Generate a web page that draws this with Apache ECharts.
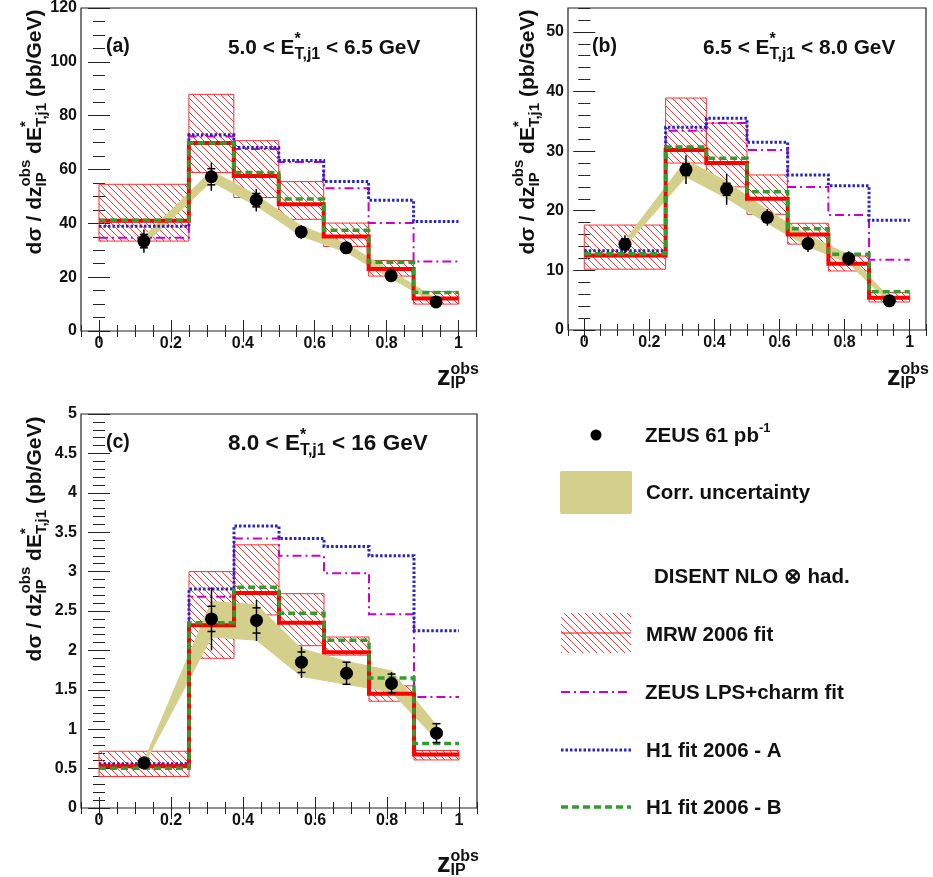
<!DOCTYPE html>
<html><head><meta charset="utf-8">
<script src="https://cdn.jsdelivr.net/npm/echarts@6/dist/echarts.min.js"></script>
<style>html,body{margin:0;padding:0;background:#fff}#c{width:933px;height:877px}</style>
</head><body><div id="c"></div>
<script>
// ---------------- data ----------------
const binEdges = [0, 0.25, 0.375, 0.5, 0.625, 0.75, 0.875, 1.0];
const zCenters = [0.125, 0.3125, 0.4375, 0.5625, 0.6875, 0.8125, 0.9375];
const xTickLabels = [0, 0.2, 0.4, 0.6, 0.8, 1];

// panel (a) 5.0 < E*T,j1 < 6.5 GeV
const a_data   = [33.4, 57.3, 48.6, 36.8, 30.9, 20.6, 10.8];
const a_tot    = [4.3, 5.2, 4.2, 2.5, 2.2, 2.5, 1.0];
const a_stat   = [2.5, 3.0, 2.5, 1.5, 1.5, 1.2, 0.8];
const a_bandLo = [32.0, 55.5, 46.5, 35.3, 29.3, 19.5, 10.3];
const a_bandHi = [35.0, 59.5, 50.5, 39.0, 32.5, 22.3, 12.0];
const a_mrw    = [41.0, 69.8, 57.6, 47.1, 35.1, 23.0, 12.1];
const a_mrwLo  = [33.4, 58.9, 49.6, 41.5, 31.4, 20.4, 10.0];
const a_mrwHi  = [54.5, 87.9, 70.7, 55.5, 40.1, 26.2, 14.6];
const a_lps    = [34.6, 72.3, 67.6, 62.8, 53.0, 40.1, 25.8];
const a_h1a    = [38.9, 72.9, 68.2, 63.3, 55.5, 48.6, 40.7];
const a_h1b    = [41.1, 69.8, 58.9, 49.0, 37.4, 25.5, 14.3];
const a_yTicks = [0, 20, 40, 60, 80, 100, 120];

// panel (b) 6.5 < E*T,j1 < 8.0 GeV
const b_data   = [14.4, 26.9, 23.6, 18.9, 14.5, 12.0, 4.9];
const b_tot    = [1.5, 2.4, 2.6, 1.4, 1.4, 1.2, 0.5];
const b_stat   = [0.9, 1.0, 1.0, 0.8, 0.8, 0.7, 0.3];
const b_bandLo = [14.0, 25.7, 22.1, 17.9, 14.0, 11.2, 4.6];
const b_bandHi = [15.0, 28.5, 24.9, 20.1, 15.9, 12.6, 5.4];
const b_mrw    = [12.5, 30.2, 28.0, 22.0, 16.0, 11.1, 5.4];
const b_mrwLo  = [10.2, 28.0, 24.0, 19.4, 14.4, 9.9, 4.7];
const b_mrwHi  = [17.6, 38.9, 34.7, 26.0, 17.9, 12.4, 6.3];
const b_lps    = [12.5, 33.4, 34.7, 30.2, 24.0, 19.3, 11.8];
const b_h1a    = [13.3, 34.0, 35.5, 31.5, 26.0, 24.2, 18.4];
const b_h1b    = [12.8, 30.7, 28.8, 23.2, 17.0, 12.7, 6.4];
const b_yTicks = [0, 10, 20, 30, 40, 50];

// panel (c) 8.0 < E*T,j1 < 16 GeV
const c_data   = [0.573, 2.40, 2.38, 1.85, 1.71, 1.58, 0.95];
const c_tot    = [0.04, 0.40, 0.26, 0.20, 0.14, 0.145, 0.13];
const c_stat   = [0.03, 0.16, 0.16, 0.13, 0.14, 0.12, 0.12];
const c_bandLo = [0.55, 2.17, 2.13, 1.67, 1.57, 1.47, 0.87];
const c_bandHi = [0.60, 2.62, 2.58, 2.02, 1.86, 1.74, 1.05];
const c_mrw    = [0.53, 2.32, 2.73, 2.35, 1.975, 1.45, 0.68];
const c_mrwLo  = [0.40, 1.90, 2.45, 2.06, 1.94, 1.355, 0.61];
const c_mrwHi  = [0.72, 3.00, 3.34, 2.72, 2.17, 1.55, 0.73];
const c_lps    = [0.55, 2.68, 3.42, 3.20, 2.98, 2.46, 1.41];
const c_h1a    = [0.56, 2.78, 3.58, 3.42, 3.32, 3.20, 2.25];
const c_h1b    = [0.505, 2.35, 2.80, 2.47, 2.13, 1.65, 0.82];
const c_yTicks = [0, 0.5, 1, 1.5, 2, 2.5, 3, 3.5, 4, 4.5, 5];

// ---------------- styling helpers ----------------
const FONT = '"Liberation Sans", Arial, Helvetica, sans-serif';
const RED = '#ff0000', MAG = '#cc00cc', BLUE = '#2424c8', GREEN = '#2f9e2f', OLIVE = '#d4d08c', INK = '#111';

function hatchCanvas() {
  const s = 7;
  const c = document.createElement('canvas');
  c.width = s; c.height = s;
  const g = c.getContext('2d');
  g.strokeStyle = '#ff3a3a'; g.lineWidth = 1;
  g.beginPath();
  g.moveTo(0, 0); g.lineTo(s, s);
  g.moveTo(-1, s - 1); g.lineTo(1, s + 1);
  g.moveTo(s - 1, -1); g.lineTo(s + 1, 1);
  g.stroke();
  return c;
}
const HATCH = hatchCanvas();

const panels = [
  {grid: {left: 81, top: 8, width: 395.5, height: 323}, ymax: 120, major: 20, minor: 5, yTicks: a_yTicks,
   data: a_data, tot: a_tot, stat: a_stat, lo: a_bandLo, hi: a_bandHi, mrw: a_mrw, mrwLo: a_mrwLo, mrwHi: a_mrwHi, lps: a_lps, h1a: a_h1a, h1b: a_h1b},
  {grid: {left: 568, top: 8, width: 358, height: 322}, ymax: 54, major: 10, minor: 2, yTicks: b_yTicks,
   data: b_data, tot: b_tot, stat: b_stat, lo: b_bandLo, hi: b_bandHi, mrw: b_mrw, mrwLo: b_mrwLo, mrwHi: b_mrwHi, lps: b_lps, h1a: b_h1a, h1b: b_h1b},
  {grid: {left: 81, top: 414, width: 396, height: 394}, ymax: 5, major: 0.5, minor: 0.1, yTicks: c_yTicks,
   data: c_data, tot: c_tot, stat: c_stat, lo: c_bandLo, hi: c_bandHi, mrw: c_mrw, mrwLo: c_mrwLo, mrwHi: c_mrwHi, lps: c_lps, h1a: c_h1a, h1b: c_h1b}
];

const fmt = v => String(+(+v).toFixed(3));
const grids = [], xAxes = [], yAxes = [], series = [];
const tickLine = {color: '#222', width: 1};

panels.forEach((P, p) => {
  grids.push(Object.assign({show: true, borderColor: '#222', borderWidth: 1.2, backgroundColor: 'transparent'}, P.grid));
  const xBase = {gridIndex: p, type: 'value', min: -0.05, max: 1.05, axisLine: {show: false}, splitLine: {show: false}};
  xAxes.push(Object.assign({}, xBase, {position: 'bottom', interval: 0.05,
    axisTick: {inside: true, length: 6, lineStyle: tickLine},
    axisLabel: {customValues: xTickLabels, formatter: fmt, margin: 5, fontSize: 16, fontWeight: 'bold', fontFamily: FONT, color: INK}}));
  xAxes.push(Object.assign({}, xBase, {position: 'bottom',
    axisTick: {inside: true, length: 11, customValues: xTickLabels, lineStyle: tickLine}, axisLabel: {show: false}}));
  xAxes.push(Object.assign({}, xBase, {position: 'top', interval: 0.05,
    axisTick: {inside: true, length: 6, lineStyle: tickLine}, axisLabel: {show: false}}));
  xAxes.push(Object.assign({}, xBase, {position: 'top',
    axisTick: {inside: true, length: 11, customValues: xTickLabels, lineStyle: tickLine}, axisLabel: {show: false}}));

  const yBase = {gridIndex: p, type: 'value', min: 0, max: P.ymax, axisLine: {show: false}, splitLine: {show: false}};
  yAxes.push(Object.assign({}, yBase, {position: 'left', interval: P.major,
    axisTick: {inside: true, length: 11, customValues: P.yTicks, lineStyle: tickLine},
    axisLabel: {customValues: P.yTicks, formatter: fmt, margin: 4, fontSize: 16, fontWeight: 'bold', fontFamily: FONT, color: INK}}));
  yAxes.push(Object.assign({}, yBase, {position: 'left', interval: P.minor,
    axisTick: {inside: true, length: 6, lineStyle: tickLine}, axisLabel: {show: false}}));
  yAxes.push(Object.assign({}, yBase, {position: 'right', interval: P.major,
    axisTick: {inside: true, length: 11, customValues: P.yTicks, lineStyle: tickLine}, axisLabel: {show: false}}));
  yAxes.push(Object.assign({}, yBase, {position: 'right', interval: P.minor,
    axisTick: {inside: true, length: 6, lineStyle: tickLine}, axisLabel: {show: false}}));

  const xi = p * 4, yi = p * 4;
  // MRW hatched uncertainty boxes
  series.push({
    type: 'custom', xAxisIndex: xi, yAxisIndex: yi, z: 1, silent: true,
    data: P.mrwLo.map((lo, i) => [binEdges[i], binEdges[i + 1], lo, P.mrwHi[i]]),
    encode: {x: [0, 1], y: [2, 3]},
    renderItem: (params, api) => {
      const p1 = api.coord([api.value(0), api.value(3)]);
      const p2 = api.coord([api.value(1), api.value(2)]);
      return {type: 'rect', shape: {x: p1[0], y: p1[1], width: p2[0] - p1[0], height: p2[1] - p1[1]},
        style: {fill: {image: HATCH, repeat: 'repeat'}, stroke: '#ff3030', lineWidth: 1}};
    }
  });
  // correlated uncertainty band
  series.push({
    type: 'custom', xAxisIndex: xi, yAxisIndex: yi, z: 2, silent: true,
    data: zCenters.map((x, i) => [x, P.lo[i], P.hi[i]]),
    encode: {x: 0, y: [1, 2]},
    renderItem: (params, api) => {
      if (params.dataIndex !== 0) return null;
      const up = zCenters.map((x, i) => api.coord([x, P.hi[i]]));
      const dn = zCenters.map((x, i) => api.coord([x, P.lo[i]])).reverse();
      return {type: 'polygon', shape: {points: up.concat(dn)}, style: {fill: OLIVE, stroke: OLIVE, lineWidth: 1}};
    }
  });
  const stepData = v => v.map((y, i) => [binEdges[i], y]).concat([[binEdges[7], v[6]]]);
  const stepSeries = (name, v, color, width, type, z) => ({
    name, type: 'line', step: 'end', xAxisIndex: xi, yAxisIndex: yi, z, silent: true,
    showSymbol: false, symbol: 'none', data: stepData(v), animation: false,
    lineStyle: {color, width, type, cap: 'butt', join: 'miter'}
  });
  series.push(stepSeries('ZEUS LPS+charm fit', P.lps, MAG, 2, [9, 4, 2, 4], 3));
  series.push(stepSeries('H1 fit 2006 - A', P.h1a, BLUE, 3, [2.5, 2], 4));
  series.push(stepSeries('MRW 2006 fit', P.mrw, RED, 4, 'solid', 5));
  series.push(stepSeries('H1 fit 2006 - B', P.h1b, GREEN, 3.5, [7, 4], 6));
  // error bars
  series.push({
    type: 'custom', xAxisIndex: xi, yAxisIndex: yi, z: 7, silent: true,
    data: zCenters.map((x, i) => [x, P.data[i], P.tot[i], P.stat[i]]),
    encode: {x: 0, y: 1},
    renderItem: (params, api) => {
      const x = api.value(0), y = api.value(1), t = api.value(2), s = api.value(3);
      const top = api.coord([x, y + t]), bot = api.coord([x, y - t]);
      const st = api.coord([x, y + s]), sb = api.coord([x, y - s]);
      const ls = {stroke: '#000', lineWidth: 1.5};
      return {type: 'group', children: [
        {type: 'line', shape: {x1: top[0], y1: top[1], x2: bot[0], y2: bot[1]}, style: ls},
        {type: 'line', shape: {x1: st[0] - 4, y1: st[1], x2: st[0] + 4, y2: st[1]}, style: ls},
        {type: 'line', shape: {x1: sb[0] - 4, y1: sb[1], x2: sb[0] + 4, y2: sb[1]}, style: ls}
      ]};
    }
  });
  series.push({
    name: 'ZEUS 61 pb-1', type: 'scatter', xAxisIndex: xi, yAxisIndex: yi, z: 8, silent: true,
    symbol: 'circle', symbolSize: 13, itemStyle: {color: '#000', opacity: 1},
    data: zCenters.map((x, i) => [x, P.data[i]])
  });
});

// ---------------- text with sub/superscripts ----------------
const mctx = document.createElement('canvas').getContext('2d');
function measure(t, fs) { mctx.font = 'bold ' + fs + 'px ' + FONT; return mctx.measureText(t).width; }
// segs: [text, fontSize, dy, stackWithNext]
function mathText(x, y, segs, opts) {
  opts = opts || {};
  let cx = 0, stackW = null;
  const kids = [];
  segs.forEach(s => {
    const [t, fs, dy, stack] = s;
    const w = measure(t, fs);
    kids.push({type: 'text', x: cx, y: dy || 0, silent: true,
      style: {text: t, font: 'bold ' + fs + 'px ' + FONT, fill: INK, textAlign: 'left', textVerticalAlign: 'middle'}});
    if (stack) { stackW = w; }
    else { cx += (stackW != null ? Math.max(stackW, w) : w); stackW = null; }
  });
  if (opts.center) kids.forEach(k => { k.x -= cx / 2; });
  return {type: 'group', x, y, rotation: opts.rotation || 0, silent: true, children: kids};
}

const yTitleSegs = [
  ['dσ / dz', 21, 0], ['IP', 15, 7, true], ['obs', 15, -9],
  [' dE', 21, 0], ['*', 15, -9, true], ['T,j1', 15, 7], [' (pb/GeV)', 21, 0]
];
const xTitleSegs = [['z', 27, 0], ['IP', 16, 6, true], ['obs', 16, -8]];
const rangeSegs = (lo, hi, fs, ss) => [[lo + ' < E', fs, 0], ['*', ss, -8, true], ['T,j1', ss, 7], [' < ' + hi + ' GeV', fs, 0]];
const txt = (x, y, t, fs) => mathText(x, y, [[t, fs || 20.5, 0]]);

const graphics = [
  // y-axis titles (read bottom to top)
  mathText(35, 132, yTitleSegs, {center: true, rotation: Math.PI / 2}),
  mathText(528, 132, yTitleSegs, {center: true, rotation: Math.PI / 2}),
  mathText(35, 539, yTitleSegs, {center: true, rotation: Math.PI / 2}),
  // x-axis titles
  mathText(437, 378, xTitleSegs),
  mathText(887, 378, xTitleSegs),
  mathText(437, 865, xTitleSegs),
  // panel labels
  txt(106, 47, '(a)', 19.5),
  mathText(228, 48, rangeSegs('5.0', '6.5', 20.8, 16)),
  txt(592, 47, '(b)', 19.5),
  mathText(703, 48, rangeSegs('6.5', '8.0', 20.8, 16)),
  txt(106, 443, '(c)', 19.5),
  mathText(228, 444, rangeSegs('8.0', '16', 22.5, 16)),
  // legend
  {type: 'circle', shape: {cx: 596, cy: 435, r: 5.5}, style: {fill: '#000'}, silent: true},
  mathText(645, 436, [['ZEUS 61 pb', 20.5, 0], ['-1', 13, -8]]),
  {type: 'rect', shape: {x: 560, y: 471, width: 72, height: 43, r: 2}, style: {fill: OLIVE}, silent: true},
  txt(646, 493, 'Corr. uncertainty'),
  txt(654, 577, 'DISENT NLO ⊗ had.'),
  {type: 'rect', shape: {x: 561, y: 613, width: 70, height: 40}, style: {fill: {image: HATCH, repeat: 'repeat'}}, silent: true},
  {type: 'line', shape: {x1: 561, y1: 633, x2: 631, y2: 633}, style: {stroke: RED, lineWidth: 1}, silent: true},
  txt(646, 635, 'MRW 2006 fit'),
  {type: 'line', shape: {x1: 561, y1: 692, x2: 631, y2: 692}, style: {stroke: MAG, lineWidth: 2, lineDash: [9, 4, 2, 4]}, silent: true},
  txt(645, 693, 'ZEUS LPS+charm fit'),
  {type: 'line', shape: {x1: 561, y1: 750, x2: 631, y2: 750}, style: {stroke: BLUE, lineWidth: 3, lineDash: [2.5, 2]}, silent: true},
  txt(646, 751, 'H1 fit 2006 - A'),
  {type: 'line', shape: {x1: 561, y1: 807, x2: 631, y2: 807}, style: {stroke: GREEN, lineWidth: 3.5, lineDash: [7, 4]}, silent: true},
  txt(646, 808, 'H1 fit 2006 - B')
];

const chart = echarts.init(document.getElementById('c'), null, {renderer: 'canvas'});
chart.setOption({
  animation: false,
  backgroundColor: '#fff',
  grid: grids, xAxis: xAxes, yAxis: yAxes, series,
  graphic: {elements: graphics}
});
</script>
</body></html>
